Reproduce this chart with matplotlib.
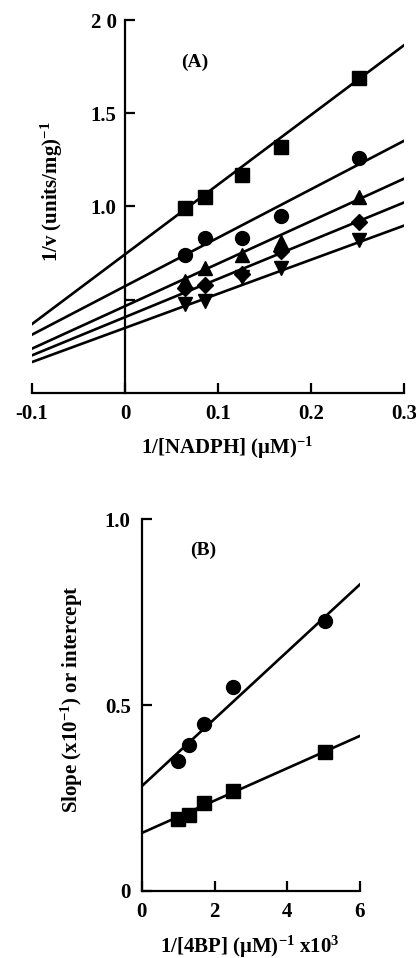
import matplotlib
matplotlib.use("Agg")
import matplotlib.pyplot as plt

plt.rcParams['font.family'] = ['Liberation Serif', 'DejaVu Serif']
plt.rcParams['font.weight'] = 'bold'
plt.rcParams['mathtext.fontset'] = 'custom'
plt.rcParams['mathtext.rm'] = 'Liberation Serif:bold'
plt.rcParams['mathtext.bf'] = 'Liberation Serif:bold'
plt.rcParams['mathtext.default'] = 'bf'

# panel A: double reciprocal plot, 1/v vs 1/[NADPH]
nadph_inv = [0.065, 0.086, 0.126, 0.168, 0.252]
v_square = [0.99, 1.05, 1.17, 1.32, 1.69]
v_circle = [0.74, 0.83, 0.83, 0.95, 1.26]
v_tri = [0.60, 0.67, 0.74, 0.81, 1.05]
v_diamond = [0.56, 0.58, 0.64, 0.76, 0.915]
v_tri_down = [0.475, 0.49, 0.62, 0.67, 0.82]
a_markers = ['s', 'o', '^', 'D', 'v']
a_intercepts = [0.743, 0.572, 0.465, 0.406, 0.348]
a_slopes = [3.74, 2.60, 2.28, 2.05, 1.83]

# panel B: replot of slope and intercept vs 1/[4BP]
bp_inv = [0.99, 1.29, 1.70, 2.52, 5.05]
b_intercept_pts = [0.35, 0.392, 0.45, 0.548, 0.726]
b_slope_pts = [0.194, 0.204, 0.237, 0.269, 0.374]
b_fit_int = [0.282, 0.156]
b_fit_slope = [0.0904, 0.0435]

fig = plt.figure(figsize=(4.16, 9.58), dpi=100)

# ---------- panel A ----------
ax = fig.add_axes([0.077, 0.590, 0.894, 0.389])
xa = [-0.1, 0.3]
series = [v_square, v_circle, v_tri, v_diamond, v_tri_down]
for ys, m, b, k in zip(series, a_markers, a_intercepts, a_slopes):
    ax.plot(xa, [b + k * x for x in xa], color='black', lw=1.9)
    ms = 8 if m == 'D' else 10
    ax.plot(nadph_inv, ys, m, color='black', ms=ms, mec='black')
ax.set_xlim(-0.1, 0.3)
ax.set_ylim(0, 2.0)
ax.spines['left'].set_position(('data', 0))
ax.spines['top'].set_visible(False)
ax.spines['right'].set_visible(False)
for s in ['left', 'bottom']:
    ax.spines[s].set_linewidth(1.6)
ax.set_xticks([-0.1, 0, 0.1, 0.2, 0.3])
ax.set_xticklabels(['-0.1', '0', '0.1', '0.2', '0.3'])
ax.set_yticks([0.5, 1.0, 1.5, 2.0])
ax.set_yticklabels(['', '1.0', '1.5', '2 0'])
ax.tick_params(direction='in', length=7, width=1.6, labelsize=15, pad=8)
ax.tick_params(axis='y', pad=6)
ax.text(0.075, 1.775, '(A)', fontsize=14, ha='center', va='center')
fig.text(0.125, 0.80, r'1/v (units/mg)$^{-1}$', rotation=90, fontsize=15,
         ha='center', va='center')
fig.text(0.545, 0.532, r'1/[NADPH] ($\mu$M)$^{-1}$', fontsize=15,
         ha='center', va='center')

# ---------- panel B ----------
bx = fig.add_axes([0.341, 0.070, 0.524, 0.388])
xb = [0, 6]
for b, k in zip(b_fit_int, b_fit_slope):
    bx.plot(xb, [b + k * x for x in xb], color='black', lw=1.9)
bx.plot(bp_inv, b_intercept_pts, 'o', color='black', ms=10)
bx.plot(bp_inv, b_slope_pts, 's', color='black', ms=10)
bx.set_xlim(0, 6)
bx.set_ylim(0, 1.0)
bx.spines['top'].set_visible(False)
bx.spines['right'].set_visible(False)
for s in ['left', 'bottom']:
    bx.spines[s].set_linewidth(1.6)
bx.set_xticks([0, 2, 4, 6])
bx.set_yticks([0, 0.5, 1.0])
bx.set_yticklabels(['0', '0.5', '1.0'])
bx.tick_params(direction='in', length=7, width=1.6, labelsize=15, pad=8)
bx.text(1.68, 0.917, '(B)', fontsize=14, ha='center', va='center')
fig.text(0.173, 0.27, r'Slope (x10$^{-1}$) or intercept', rotation=90,
         fontsize=15, ha='center', va='center')
fig.text(0.60, 0.012, r'1/[4BP] ($\mu$M)$^{-1}$ x10$^{3}$', fontsize=15,
         ha='center', va='center')

fig.savefig('out.png', dpi=100)
